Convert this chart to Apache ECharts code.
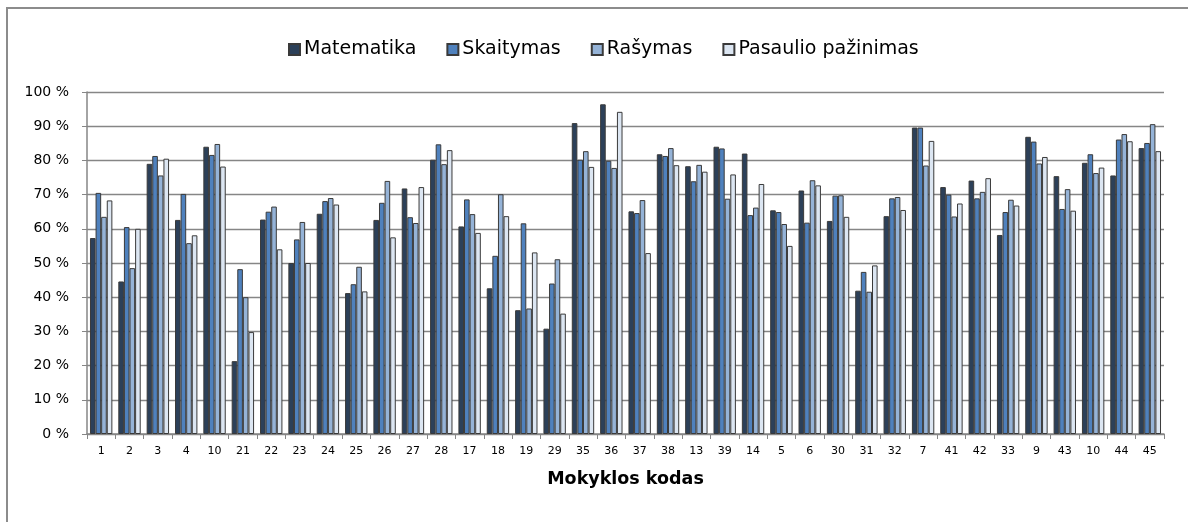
<!DOCTYPE html>
<html>
<head>
<meta charset="utf-8">
<script src="https://cdn.jsdelivr.net/npm/echarts@6/dist/echarts.min.js"></script>
<style>
  html, body { margin: 0; padding: 0; background: #ffffff; }
  #chart { width: 1188px; height: 522px; }
</style>
</head>
<body>
<div id="chart"></div>
<script>
// School codes along the horizontal axis
const categories = ['1','2','3','4','10','21','22','23','24','25','26','27','28','17','18','19','29','35','36','37','38','13','39','14','5','6','30','31','32','7','41','42','33','9','43','10','44','45'];

// Results per subject, percent
const matematika = [57.3,44.6,79.0,62.6,84.0,21.3,62.7,50.0,64.4,41.2,62.6,71.8,80.2,60.7,42.6,36.2,30.8,90.9,96.4,65.1,81.8,78.3,84.0,82.0,65.4,71.2,62.3,41.9,63.7,89.6,72.2,74.1,58.2,86.9,75.4,79.3,75.6,83.6];
const skaitymas  = [70.5,60.5,81.3,70.2,81.6,48.2,65.0,56.9,68.1,43.8,67.6,63.4,84.7,68.6,52.1,61.6,44.0,80.2,79.9,64.6,81.3,73.9,83.5,64.0,64.9,61.8,69.7,47.4,68.9,89.6,70.0,68.9,64.9,85.5,65.8,81.8,86.1,85.1];
const rasymas    = [63.5,48.5,75.6,55.8,84.8,40.0,66.5,62.0,69.0,48.9,74.0,61.7,78.9,64.3,70.1,36.7,51.1,82.7,77.8,68.4,83.6,78.7,68.8,66.2,61.4,74.2,69.8,41.6,69.3,78.5,63.6,70.8,68.5,79.1,71.6,76.3,87.7,90.6];
const pasaulio   = [68.3,60.0,80.5,58.1,78.2,29.8,54.0,50.0,67.1,41.7,57.5,72.2,83.0,58.8,63.7,53.1,35.2,78.1,94.2,52.9,78.6,76.7,75.9,73.1,55.0,72.7,63.5,49.3,65.5,85.7,67.4,74.8,66.8,81.0,65.3,77.9,85.6,82.7];

const seriesNames = ['Matematika', 'Skaitymas', 'Rašymas', 'Pasaulio pažinimas'];
const seriesColors = ['#2C4059', '#4F81BD', '#95B3D7', '#DCE6F2'];
const seriesValues = [matematika, skaitymas, rasymas, pasaulio];

const FONT = 'DejaVu Sans';
const chart = echarts.init(document.getElementById('chart'), null, { renderer: 'canvas' });

chart.setOption({
  animation: false,
  backgroundColor: '#ffffff',
  textStyle: { fontFamily: FONT },
  graphic: [{
    type: 'rect',
    shape: { x: 7, y: 8, width: 1200, height: 540 },
    style: { fill: 'none', stroke: '#8C8C8C', lineWidth: 2 },
    silent: true,
    z: -1
  }],
  legend: {
    left: 283,
    top: 35,
    icon: 'rect',
    itemWidth: 11,
    itemHeight: 11,
    itemGap: 30,
    textStyle: { fontFamily: FONT, fontSize: 19, color: '#000000', padding: [0, 0, 0, -1] },
    data: seriesNames
  },
  grid: { left: 87, right: 24, top: 92, bottom: 88, containLabel: false },
  xAxis: {
    type: 'category',
    data: categories,
    name: 'Mokyklos kodas',
    nameLocation: 'middle',
    nameGap: 36,
    nameTextStyle: { fontFamily: FONT, fontSize: 17.5, fontWeight: 'bold', color: '#000000' },
    axisLine: { show: true, lineStyle: { color: '#868686', width: 1.5 } },
    axisTick: { show: true, length: 5, inside: false, alignWithLabel: false, lineStyle: { color: '#868686' } },
    axisLabel: { fontFamily: FONT, fontSize: 11, color: '#000000', margin: 12, interval: 0 },
    splitLine: { show: false }
  },
  yAxis: {
    type: 'value',
    min: 0,
    max: 100,
    interval: 10,
    axisLine: { show: true, lineStyle: { color: '#868686', width: 1.5 } },
    axisTick: { show: true, length: 5, inside: false, lineStyle: { color: '#868686' } },
    axisLabel: { fontFamily: FONT, fontSize: 14, color: '#000000', margin: 18, formatter: '{value} %' },
    splitLine: { show: true, lineStyle: { color: '#868686', width: 1.3 } }
  },
  series: seriesNames.map((name, i) => ({
    name: name,
    type: 'bar',
    data: seriesValues[i],
    barGap: '0%',
    barCategoryGap: '21%',
    itemStyle: { color: seriesColors[i], borderColor: '#3A3A3A', borderWidth: 1 }
  }))
});
</script>
</body>
</html>
